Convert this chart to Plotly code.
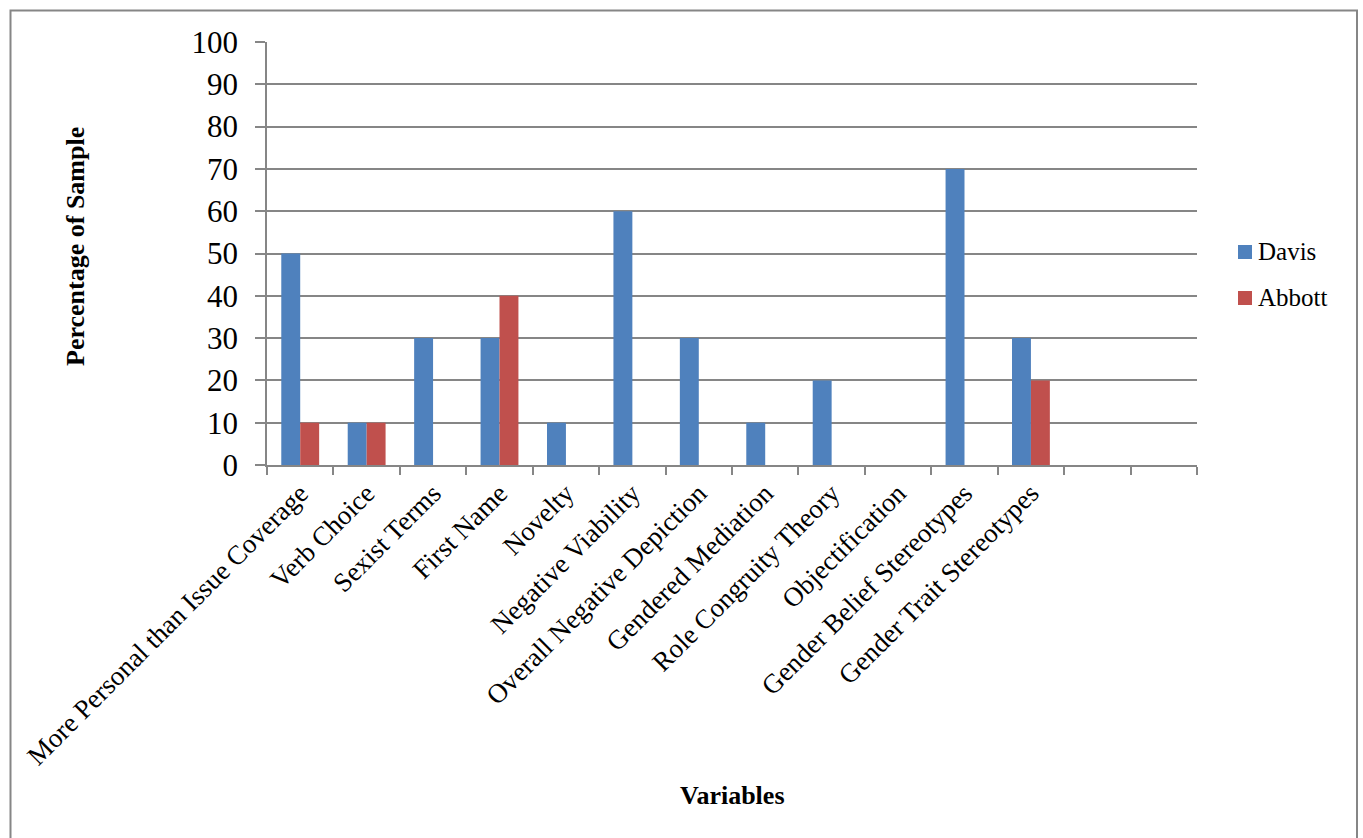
import plotly.graph_objects as go

# Coverage variables (two trailing empty slots keep the axis at 14 categories)
categories = [
    "More Personal than Issue Coverage",
    "Verb Choice",
    "Sexist Terms",
    "First Name",
    "Novelty",
    "Negative Viability",
    "Overall Negative Depiction",
    "Gendered Mediation",
    "Role Congruity Theory",
    "Objectification",
    "Gender Belief Stereotypes",
    "Gender Trait Stereotypes",
    " ",
    "  ",
]
series_names = ["Davis", "Abbott"]
davis = [50, 10, 30, 30, 10, 60, 30, 10, 20, None, 70, 30, None, None]
abbott = [10, 10, None, 40, None, None, None, None, None, None, None, 20, None, None]
y_ticks = list(range(0, 101, 10))

W, H = 1363, 838
L, R, T, B = 267, 1197, 42, 465  # plot area in pixels
GRAY = "#868686"
FONT = "Liberation Serif"
COLORS = ["#4F81BD", "#C0504D"]


def px_x(p):
    return (p - L) / (R - L)


def px_y(p):
    return (B - p) / (B - T)


fig = go.Figure()
for name, values, color in zip(series_names, [davis, abbott], COLORS):
    fig.add_trace(go.Bar(name=name, x=categories, y=values,
                         marker=dict(color=color, line=dict(width=0)),
                         showlegend=False))

# Legend on the right: a colour square plus a serif label per series
legend_shapes, legend_notes = [], []
for i, (name, color) in enumerate(zip(series_names, COLORS)):
    cy = 252 + 46 * i
    legend_shapes.append(dict(
        type="rect", xref="paper", yref="paper",
        x0=px_x(1238), x1=px_x(1252), y0=px_y(cy + 7), y1=px_y(cy - 7),
        line=dict(width=0), fillcolor=color))
    legend_notes.append(dict(
        text=name, xref="paper", yref="paper", x=px_x(1256), y=px_y(cy - 1),
        xanchor="left", yanchor="middle", showarrow=False,
        font=dict(size=25, family=FONT, color="black")))

fig.update_layout(
    template="none",
    width=W, height=H,
    margin=dict(l=L, r=W - R, t=T, b=H - B, autoexpand=False),
    paper_bgcolor="white", plot_bgcolor="white",
    barmode="group", bargap=0.43, bargroupgap=0,
    font=dict(family=FONT, color="black", size=25),
    showlegend=False,
    xaxis=dict(
        type="category", categoryorder="array", categoryarray=categories,
        tickangle=-45, tickfont=dict(size=27, family=FONT, color="black"),
        showline=True, linecolor=GRAY, linewidth=1.5,
        ticks="outside", tickson="boundaries", ticklen=8, tickcolor=GRAY,
        tickwidth=1.5, showgrid=False, automargin=False,
    ),
    yaxis=dict(
        range=[0, 100], tickvals=y_ticks,
        tickfont=dict(size=31, family=FONT, color="black"),
        showline=True, linecolor=GRAY, linewidth=1.5,
        ticks="outside", ticklen=10, tickcolor=GRAY, tickwidth=1.5,
        ticklabelstandoff=11,
        showgrid=True, gridcolor=GRAY, gridwidth=1.5,
        zeroline=False, automargin=False,
    ),
    annotations=[
        dict(text="<b>Percentage of Sample</b>", xref="paper", yref="paper",
             x=px_x(75), y=px_y(247), textangle=-90, showarrow=False,
             font=dict(size=26, family=FONT, color="black"),
             xanchor="center", yanchor="middle"),
        dict(text="<b>Variables</b>", xref="paper", yref="paper",
             x=px_x(732), y=px_y(795), showarrow=False,
             font=dict(size=26, family=FONT, color="black"),
             xanchor="center", yanchor="middle"),
    ] + legend_notes,
    shapes=[
        dict(type="rect", xref="paper", yref="paper",
             x0=px_x(10.5), x1=px_x(1357), y0=px_y(850), y1=px_y(10.5),
             line=dict(color=GRAY, width=2), fillcolor="rgba(0,0,0,0)",
             layer="below"),
    ] + legend_shapes,
)

fig.write_html("out.html")
